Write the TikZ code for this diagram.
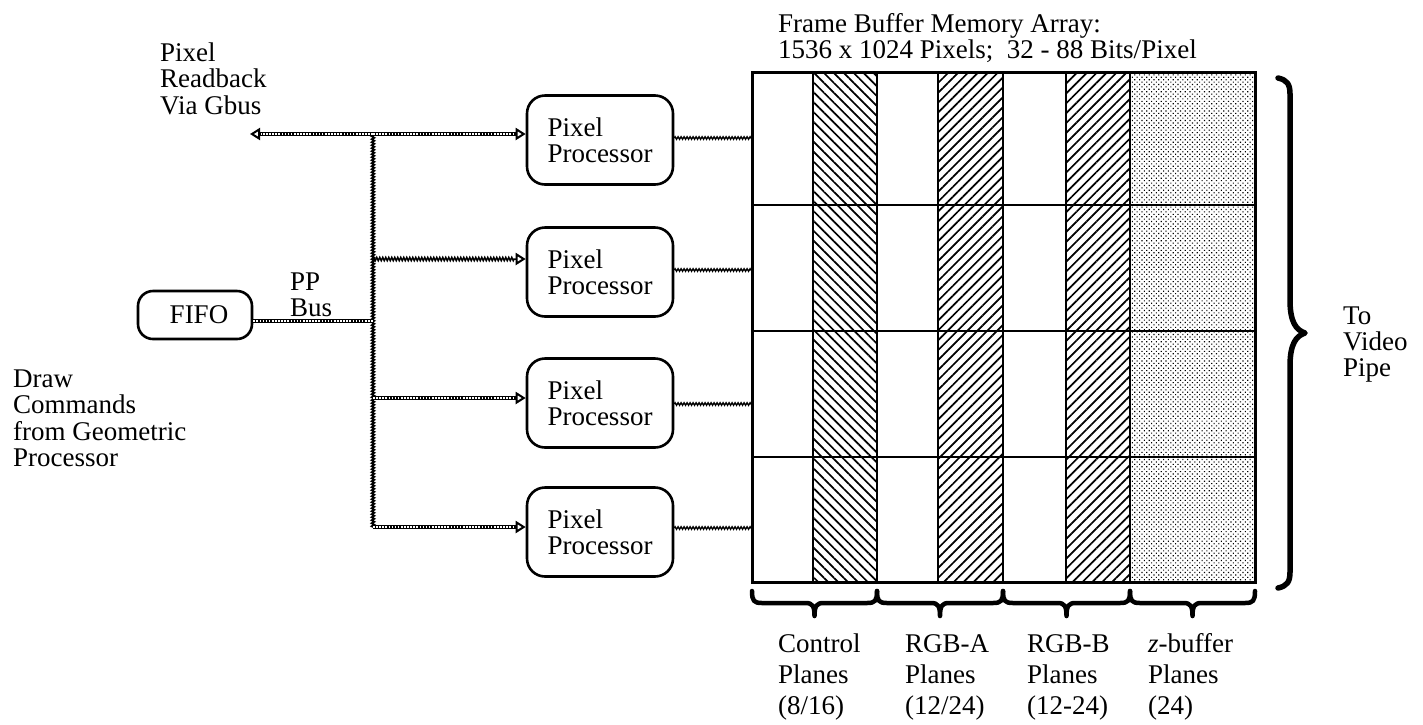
\documentclass[tikz,border=0pt]{standalone}
\usepackage{fontspec}
\setmainfont{Liberation Serif}
\usetikzlibrary{arrows.meta,patterns.meta,decorations.pathmorphing,calc}

\newcommand{\lbl}[1]{\begin{tabular}[t]{@{}l@{}}#1\end{tabular}}

\begin{document}
\begin{tikzpicture}[x=1pt,y=-1pt,
  txt/.style={anchor=base west, inner sep=0pt, font=\fontsize{27}{26}\selectfont},
  txtwide/.style={anchor=base west, inner sep=0pt, font=\fontsize{27}{31}\selectfont},
  ppbox/.style={draw, line width=2.6pt, rounded corners=18pt, minimum width=146pt,
    minimum height=89pt, inner sep=0pt, align=left, font=\fontsize{27}{26}\selectfont},
  fifobox/.style={draw, line width=2.6pt, rounded corners=15pt, minimum width=114pt,
    minimum height=48pt, inner sep=0pt, font=\fontsize{27}{26}\selectfont},
  tip/.style={-{Triangle[open, length=10pt, width=12pt, line width=2pt]}},
  beads/.style={line width=4.2pt, postaction={draw, white, line width=1.6pt,
    dash pattern=on 1.6pt off 1.5pt, -}},
  beadarrow/.style={line width=4.2pt, tip, postaction={draw, white, line width=1.6pt,
    dash pattern=on 1.6pt off 1.5pt, -, shorten >=11pt}},
  wavy/.style={line width=1.3pt, decorate, decoration={zigzag, amplitude=1.3pt, segment length=3pt}},
  wavyarrow/.style={line width=1.5pt, tip, decoration={zigzag, amplitude=1.6pt,
    segment length=3pt, post length=11pt}, decorate},
  hatchback/.style={pattern={Lines[angle=-45, distance=7pt, line width=1.7pt]}},
  hatchfwd/.style={pattern={Lines[angle=45, distance=7pt, line width=1.7pt]}},
  stipple/.style={pattern={Dots[distance=3.4pt, radius=0.8pt, angle=45]}},
  gridline/.style={line width=2.8pt},
  planeedge/.style={line width=2pt},
  bracestyle/.style={line width=4.5pt, line cap=round, line join=round},
]
\useasboundingbox (0,0) rectangle (1423,724);

% ---------- frame buffer memory array ----------
\fill[hatchback] (813,72) rectangle (877,582);
\fill[hatchfwd]  (938,72) rectangle (1003,582);
\fill[hatchfwd]  (1066,72) rectangle (1130,582);
\fill[stipple]   (1130,72) rectangle (1255,582);
\foreach \xx in {813,877,938,1003,1066,1130}
  \draw[planeedge] (\xx,72) -- (\xx,582);
\foreach \yy in {205,331,457}
  \draw[gridline] (752,\yy) -- (1255,\yy);
\node[draw, line width=3pt, minimum width=503pt, minimum height=510pt, inner sep=0pt]
  (fb) at (1003.5,327) {};

\node[txt] (title) at (778,32)
  {\lbl{Frame Buffer Memory Array:\\1536 x 1024 Pixels;\ \ 32 - 88 Bits/Pixel}};

% ---------- braces under the plane groups ----------
\foreach \xa/\xb in {752/877, 877/1003, 1003/1130, 1130/1255}{
  \pgfmathsetmacro{\xm}{(\xa+\xb)/2}
  \draw[bracestyle]
    (\xa,591) .. controls (\xa,601) and (\xa+2,603) .. (\xa+10,603)
    -- (\xm-9,603) .. controls (\xm-2,603) and (\xm,606) .. (\xm,616)
    .. controls (\xm,606) and (\xm+2,603) .. (\xm+9,603)
    -- (\xb-10,603) .. controls (\xb-2,603) and (\xb,601) .. (\xb,591);
}
% ---------- brace towards the video pipe ----------
\draw[bracestyle, line width=5.5pt]
  (1278,78) .. controls (1287,80) and (1290,84) .. (1290,94)
  -- (1290,300) .. controls (1290,322) and (1296,330) .. (1305,333)
  .. controls (1296,336) and (1290,344) .. (1290,366)
  -- (1290,572) .. controls (1290,582) and (1287,586) .. (1278,588);

\node[txtwide] (ctrl) at (778,652)  {\lbl{Control\\Planes\\(8/16)}};
\node[txtwide] (rgba) at (905,652)  {\lbl{RGB-A\\Planes\\(12/24)}};
\node[txtwide] (rgbb) at (1027,652) {\lbl{RGB-B\\Planes\\(12-24)}};
\node[txtwide] (zbuf) at (1148,652) {\lbl{\textit{z}-buffer\\Planes\\(24)}};
\node[txt] (video) at (1343,324) {\lbl{To\\Video\\Pipe}};

% ---------- pixel processors ----------
\node[ppbox] (pp1) at (600,140) {Pixel\\Processor};
\node[ppbox] (pp2) at (600,272) {Pixel\\Processor};
\node[ppbox] (pp3) at (600,403) {Pixel\\Processor};
\node[ppbox] (pp4) at (600,532) {Pixel\\Processor};

\node[fifobox] (fifo) at (195,315) {\hspace*{8pt}FIFO};

% ---------- texts on the left ----------
\node[txt] (readback) at (160,61) {\lbl{Pixel\\Readback\\Via Gbus}};
\node[txt] (drawcmd) at (13,387) {\lbl{Draw\\Commands\\from Geometric\\Processor}};
\node[txt] (ppbus) at (290,290) {\lbl{PP\\Bus}};

% ---------- bus ----------
\coordinate (bus1) at (373,134);
\coordinate (bus2) at (373,259);
\coordinate (bus3) at (373,398);
\coordinate (bus4) at (373,527);
\coordinate (busin) at (373,321);
\coordinate (gbus) at (250,134);

\draw[wavy, line width=1.8pt] (bus1) -- (bus4);
\draw[beads] (fifo.east |- busin) -- (busin);
\draw[beadarrow] (bus1) -- (gbus);
\draw[beadarrow] (bus1) -- (pp1.west |- bus1);
\draw[wavyarrow] (bus2) -- (pp2.west |- bus2);
\draw[beadarrow] (bus3) -- (pp3.west |- bus3);
\draw[beadarrow] (bus4) -- (pp4.west |- bus4);

% ---------- processor outputs into the array ----------
\coordinate (fbin1) at (752,138);
\coordinate (fbin2) at (752,270);
\coordinate (fbin3) at (752,404);
\coordinate (fbin4) at (752,528);
\draw[wavy] (pp1.east |- fbin1) -- (fbin1);
\draw[wavy] (pp2.east |- fbin2) -- (fbin2);
\draw[wavy] (pp3.east |- fbin3) -- (fbin3);
\draw[wavy] (pp4.east |- fbin4) -- (fbin4);
\end{tikzpicture}
\end{document}
